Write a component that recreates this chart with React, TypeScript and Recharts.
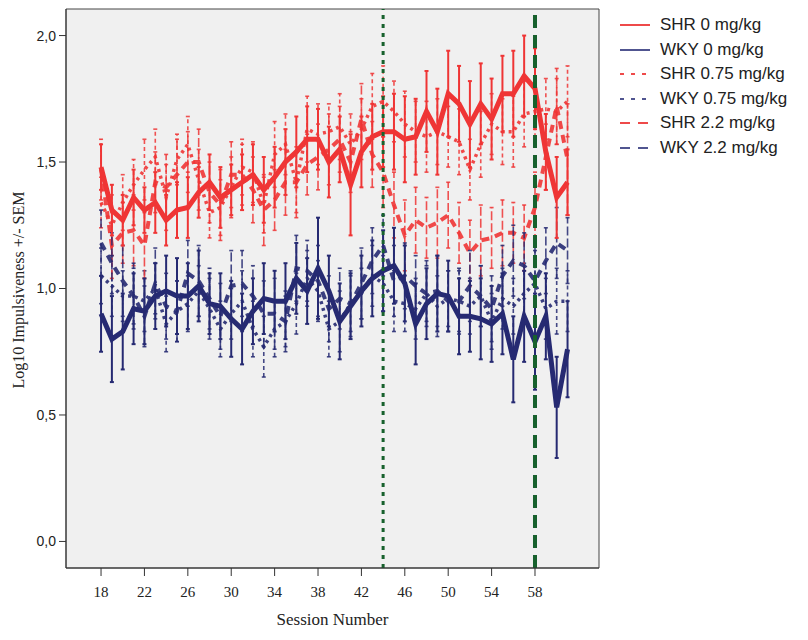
import {
  LineChart, Line, XAxis, YAxis, ErrorBar, ReferenceLine, ReferenceArea, Label,
} from 'recharts';

const sessions = [
  18, 19, 20, 21, 22, 23, 24, 25, 26, 27, 28, 29, 30, 31,
  32, 33, 34, 35, 36, 37, 38, 39, 40, 41, 42, 43, 44, 45,
  46, 47, 48, 49, 50, 51, 52, 53, 54, 55, 56, 57, 58, 59, 60, 61,
];

// SHR 0 mg/kg
const shr0 = [
  1.48, 1.31, 1.27, 1.36, 1.31, 1.34, 1.27, 1.31, 1.32, 1.38, 1.42, 1.36, 1.39, 1.42,
  1.45, 1.39, 1.44, 1.50, 1.54, 1.59, 1.59, 1.50, 1.55, 1.41, 1.54, 1.60, 1.62, 1.62,
  1.59, 1.60, 1.70, 1.62, 1.77, 1.73, 1.65, 1.73, 1.67, 1.77, 1.77, 1.84, 1.79, 1.54, 1.36, 1.42,
];
const shr0Sem = [
  0.09, 0.10, 0.10, 0.11, 0.09, 0.12, 0.10, 0.11, 0.12, 0.10, 0.11, 0.12, 0.10, 0.11,
  0.12, 0.13, 0.12, 0.13, 0.14, 0.13, 0.12, 0.14, 0.13, 0.20, 0.14, 0.13, 0.14, 0.15,
  0.17, 0.15, 0.16, 0.17, 0.17, 0.15, 0.17, 0.16, 0.16, 0.15, 0.17, 0.16, 0.16, 0.15, 0.16, 0.13,
];

// WKY 0 mg/kg
const wky0 = [
  0.90, 0.80, 0.83, 0.92, 0.91, 0.97, 0.99, 0.97, 0.97, 1.01, 0.94, 0.93, 0.88, 0.84,
  0.91, 0.96, 0.95, 0.95, 1.04, 0.99, 1.08, 0.99, 0.87, 0.93, 0.99, 1.04, 1.07, 1.09,
  1.02, 0.86, 0.94, 0.98, 0.97, 0.89, 0.89, 0.88, 0.86, 0.90, 0.72, 0.89, 0.79, 0.89, 0.53, 0.76,
];
const wky0Sem = [
  0.15, 0.17, 0.15, 0.14, 0.13, 0.13, 0.14, 0.15, 0.13, 0.14, 0.12, 0.13, 0.15, 0.14,
  0.13, 0.14, 0.12, 0.15, 0.14, 0.13, 0.20, 0.14, 0.15, 0.13, 0.14, 0.15, 0.16, 0.15,
  0.15, 0.16, 0.14, 0.15, 0.14, 0.15, 0.14, 0.16, 0.15, 0.16, 0.17, 0.18, 0.19, 0.17, 0.20, 0.19,
];

// SHR 0.75 mg/kg
const shr075 = [
  1.34, 1.25, 1.34, 1.41, 1.47, 1.52, 1.36, 1.51, 1.57, 1.43, 1.30, 1.32, 1.40, 1.48,
  1.46, 1.33, 1.53, 1.57, 1.42, 1.63, 1.61, 1.62, 1.64, 1.57, 1.63, 1.72, 1.74, 1.70,
  1.65, 1.62, 1.60, 1.62, 1.60, 1.58, 1.47, 1.57, 1.65, 1.62, 1.62, 1.69, 1.70, 1.71, 1.70, 1.74,
];
const shr075Sem = [
  0.10, 0.12, 0.11, 0.10, 0.12, 0.11, 0.13, 0.10, 0.11, 0.12, 0.10, 0.11, 0.12, 0.11,
  0.12, 0.11, 0.13, 0.12, 0.12, 0.13, 0.12, 0.11, 0.13, 0.12, 0.12, 0.13, 0.14, 0.12,
  0.13, 0.12, 0.14, 0.13, 0.12, 0.13, 0.12, 0.13, 0.12, 0.13, 0.14, 0.13, 0.13, 0.12, 0.13, 0.14,
];

// WKY 0.75 mg/kg
const wky075 = [
  1.05, 1.01, 0.97, 0.97, 0.95, 1.00, 0.86, 0.91, 0.94, 0.99, 0.92, 0.84, 0.90, 0.95,
  0.84, 0.77, 0.84, 0.87, 0.94, 1.04, 0.99, 0.84, 0.87, 0.94, 0.98, 1.05, 1.02, 0.95,
  0.94, 0.92, 0.98, 0.93, 0.96, 0.95, 0.93, 0.97, 0.87, 0.96, 0.93, 0.98, 1.02, 0.92, 0.95, 0.95,
];
const wky075Sem = [
  0.11, 0.12, 0.10, 0.11, 0.12, 0.10, 0.11, 0.12, 0.11, 0.10, 0.12, 0.11, 0.10, 0.12,
  0.11, 0.12, 0.11, 0.10, 0.12, 0.11, 0.12, 0.11, 0.12, 0.11, 0.10, 0.12, 0.11, 0.12,
  0.11, 0.12, 0.11, 0.12, 0.11, 0.12, 0.11, 0.12, 0.11, 0.12, 0.11, 0.12, 0.13, 0.12, 0.13, 0.12,
];

// SHR 2.2 mg/kg
const shr22 = [
  1.47, 1.17, 1.22, 1.23, 1.17, 1.42, 1.40, 1.45, 1.50, 1.50, 1.38, 1.33, 1.45, 1.45,
  1.39, 1.31, 1.35, 1.42, 1.42, 1.49, 1.52, 1.55, 1.59, 1.50, 1.67, 1.53, 1.46, 1.33,
  1.21, 1.27, 1.24, 1.26, 1.29, 1.22, 1.14, 1.19, 1.20, 1.22, 1.22, 1.20, 1.32, 1.52, 1.72, 1.51,
];
const shr22Sem = [
  0.12, 0.13, 0.12, 0.14, 0.13, 0.12, 0.13, 0.14, 0.12, 0.13, 0.12, 0.14, 0.13, 0.12,
  0.13, 0.14, 0.12, 0.13, 0.14, 0.12, 0.13, 0.14, 0.13, 0.12, 0.14, 0.13, 0.14, 0.13,
  0.14, 0.13, 0.12, 0.14, 0.13, 0.12, 0.13, 0.14, 0.12, 0.13, 0.12, 0.13, 0.14, 0.13, 0.15, 0.22,
];

// WKY 2.2 mg/kg
const wky22 = [
  1.18, 1.10, 1.03, 0.97, 0.89, 1.02, 0.93, 0.91, 1.06, 1.03, 0.96, 0.89, 1.01, 1.02,
  0.97, 0.90, 0.90, 0.87, 1.08, 1.07, 1.03, 0.92, 0.96, 0.94, 1.02, 1.11, 1.17, 1.03,
  1.05, 1.01, 0.98, 0.99, 0.95, 0.95, 1.01, 0.97, 0.92, 1.05, 1.11, 1.09, 1.03, 1.11, 1.18, 1.15,
];
const wky22Sem = [
  0.13, 0.12, 0.14, 0.13, 0.12, 0.14, 0.13, 0.12, 0.13, 0.14, 0.12, 0.13, 0.14, 0.13,
  0.12, 0.13, 0.14, 0.12, 0.13, 0.12, 0.14, 0.13, 0.12, 0.13, 0.14, 0.13, 0.12, 0.14,
  0.13, 0.12, 0.13, 0.14, 0.12, 0.13, 0.14, 0.12, 0.13, 0.12, 0.14, 0.13, 0.14, 0.13, 0.14, 0.13,
];

const xTicks = [18, 22, 26, 30, 34, 38, 42, 46, 50, 54, 58];
const yTicks = [0, 0.5, 1, 1.5, 2];
const xDomain = [14.77, 63.9];
const yDomain = [-0.105, 2.105];
const phaseMarks = [44, 58];

const RED = '#ef3535';
const BLUE = '#262a72';
const GREEN = '#17612d';

const data = sessions.map((s, i) => ({
  session: s,
  shr0: shr0[i], shr0Err: shr0Sem[i],
  wky0: wky0[i], wky0Err: wky0Sem[i],
  shr075: shr075[i], shr075Err: shr075Sem[i],
  wky075: wky075[i], wky075Err: wky075Sem[i],
  shr22: shr22[i], shr22Err: shr22Sem[i],
  wky22: wky22[i], wky22Err: wky22Sem[i],
}));

const series = [
  { key: 'shr0', name: 'SHR 0 mg/kg', color: RED, dash: undefined, legendDash: undefined, legendColor: '#ee4a4a' },
  { key: 'wky0', name: 'WKY 0 mg/kg', color: BLUE, dash: undefined, legendDash: undefined, legendColor: '#505590' },
  { key: 'shr075', name: 'SHR 0.75 mg/kg', color: RED, dash: '3 4', legendDash: '4 7', legendColor: '#ee4a4a' },
  { key: 'wky075', name: 'WKY 0.75 mg/kg', color: BLUE, dash: '3 4', legendDash: '4 7', legendColor: '#505590' },
  { key: 'shr22', name: 'SHR 2.2 mg/kg', color: RED, dash: '8 6', legendDash: '10 8', legendColor: '#ee4a4a' },
  { key: 'wky22', name: 'WKY 2.2 mg/kg', color: BLUE, dash: '8 6', legendDash: '10 8', legendColor: '#505590' },
];

const thin = series.filter((s) => s.dash);
const thick = series.filter((s) => !s.dash);

const LegendBox = () => (
  <div
    style={{
      position: 'absolute', left: 619, top: 13,
      fontFamily: 'Liberation Sans, Arial, sans-serif', fontSize: 17, color: '#222',
    }}
  >
    {series.map((s) => (
      <div key={s.key} style={{ display: 'flex', alignItems: 'center', height: 24.5, whiteSpace: 'nowrap' }}>
        <svg width={41} height={10}>
          <line x1={1} y1={5} x2={31} y2={5} stroke={s.legendColor} strokeWidth={2} strokeDasharray={s.legendDash} />
        </svg>
        <span>{s.name}</span>
      </div>
    ))}
  </div>
);

const YTitle = () => (
  <text
    x={18}
    y={290}
    transform="rotate(-90 18 290)"
    textAnchor="middle"
    dominantBaseline="central"
    fontFamily="Liberation Serif, Times New Roman, serif"
    fontSize={16}
    fill="#222"
  >
    Log10 Impulsiveness +/- SEM
  </text>
);

export default function App() {
  return (
    <div style={{ position: 'absolute', left: 0, top: 0, width: 808, height: 640, background: '#fff' }}>
      <LineChart width={808} height={640} data={data} margin={{ top: 9, right: 209, bottom: 0, left: 0 }}>
        <ReferenceArea
          x1={xDomain[0]} x2={xDomain[1]} y1={yDomain[0]} y2={yDomain[1]}
          fill="#f0f0f0" fillOpacity={1} stroke="#444" strokeWidth={1} ifOverflow="visible"
        />
        <XAxis
          type="number"
          dataKey="session"
          domain={xDomain}
          ticks={xTicks}
          allowDataOverflow
          height={72}
          tickSize={8}
          tickMargin={10}
          stroke="#333"
          tick={{ fill: '#222', fontFamily: 'Liberation Serif, Times New Roman, serif', fontSize: 15 }}
          label={{
            value: 'Session Number', position: 'insideBottom', offset: 15,
            fill: '#222', fontFamily: 'Liberation Serif, Times New Roman, serif', fontSize: 17,
          }}
        />
        <YAxis
          type="number"
          domain={yDomain}
          ticks={yTicks}
          allowDataOverflow
          width={66}
          tickSize={7}
          tickMargin={3}
          stroke="#333"
          tickFormatter={(v: number) => v.toFixed(1).replace('.', ',')}
          tick={{ fill: '#222', fontFamily: 'Liberation Sans, Arial, sans-serif', fontSize: 14 }}
          label={<Label content={() => <YTitle />} />}
        />
        {thin.map((s) => (
          <Line
            key={s.key}
            type="linear"
            dataKey={s.key}
            name={s.name}
            stroke={s.color}
            strokeWidth={s.dash === '3 4' ? 3.5 : 4}
            strokeDasharray={s.dash}
            strokeOpacity={0.9}
            dot={false}
            activeDot={false}
            isAnimationActive={false}
          >
            <ErrorBar
              dataKey={`${s.key}Err`}
              direction="y"
              width={2}
              stroke={s.color}
              strokeWidth={1.6}
              strokeOpacity={0.85}
              strokeDasharray={s.dash === '3 4' ? '4 3' : '9 3'}
            />
          </Line>
        ))}
        {thick.map((s) => (
          <Line
            key={s.key}
            type="linear"
            dataKey={s.key}
            name={s.name}
            stroke={s.color}
            strokeWidth={5}
            dot={false}
            activeDot={false}
            isAnimationActive={false}
          >
            <ErrorBar
              dataKey={`${s.key}Err`}
              direction="y"
              width={2}
              stroke={s.color}
              strokeWidth={2}
            />
          </Line>
        ))}
        <ReferenceLine x={phaseMarks[0]} stroke={GREEN} strokeWidth={3} strokeDasharray="4 5" />
        <ReferenceLine x={phaseMarks[1]} stroke={GREEN} strokeWidth={4} strokeDasharray="13 7" />
      </LineChart>
      <LegendBox />
    </div>
  );
}
